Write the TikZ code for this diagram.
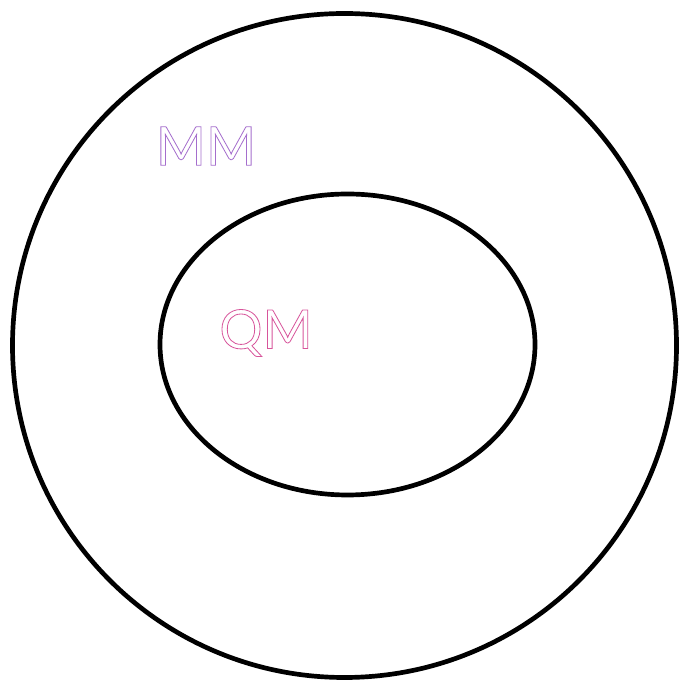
\documentclass[tikz,border=0pt]{standalone}
\usepackage{fontspec}
\setmainfont{Lato}
\definecolor{mmviolet}{RGB}{165,110,205}
\definecolor{qmpink}{RGB}{215,85,155}
\newcommand{\hollow}[1]{\special{pdf:code q 1 Tr 0.7 w}#1\special{pdf:code Q}}

\begin{document}
\begin{tikzpicture}[x=0.03cm,y=0.03cm,line width=4pt]
  \useasboundingbox (0,0) rectangle (679,680);
  % outer and inner sets
  \draw[black] (344.5,334.5) circle (332);
  \draw[black] (347.5,335.5) ellipse (187.5 and 150.5);
  \node[font=\fontsize{46}{46}\selectfont,mmviolet,inner sep=0pt] (mmlabel) at (206,534) {\hollow{MM}};
  \node[font=\fontsize{46}{46}\selectfont,qmpink,inner sep=0pt] (qmlabel) at (266,347) {\hollow{QM}};
\end{tikzpicture}
\end{document}
